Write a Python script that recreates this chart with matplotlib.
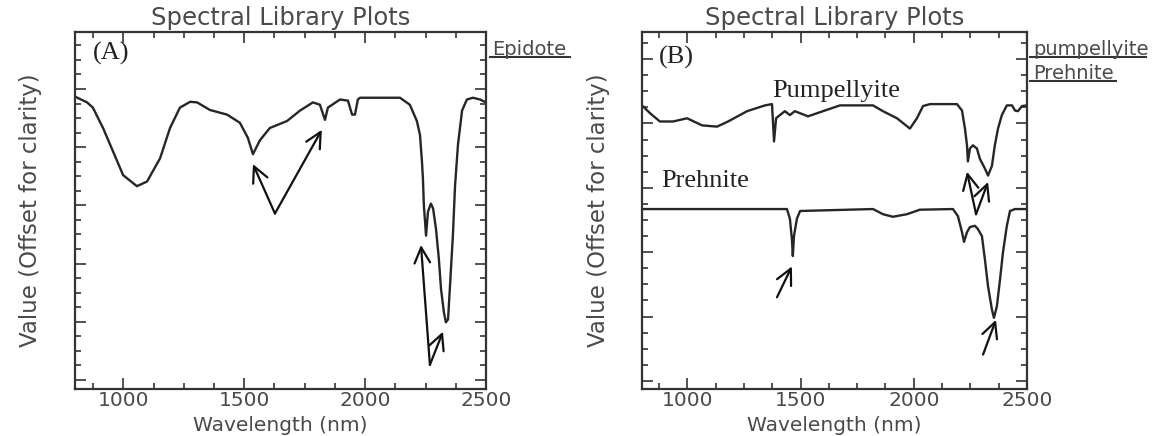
import matplotlib
matplotlib.use('Agg')
import matplotlib.pyplot as plt
from matplotlib.lines import Line2D
from matplotlib.ticker import MultipleLocator

# epidote spectrum (wavelength nm, offset value)
epidote_nm = [800, 850, 874, 916, 957, 999, 1056, 1098, 1152, 1193, 1234, 1276, 1305,
              1358, 1429, 1482, 1515, 1536, 1565, 1606, 1677, 1731, 1784, 1813, 1834,
              1846, 1896, 1929, 1946, 1958, 1970, 1979, 2144, 2185, 2214, 2227, 2235,
              2239, 2243, 2252, 2260, 2272, 2281, 2293, 2305, 2314, 2326, 2334, 2343,
              2351, 2363, 2372, 2384, 2401, 2421, 2446, 2475, 2500]
epidote_val = [4.87, 4.77, 4.68, 4.33, 3.93, 3.52, 3.33, 3.41, 3.81, 4.33, 4.68, 4.78, 4.77,
               4.64, 4.56, 4.42, 4.16, 3.88, 4.12, 4.33, 4.45, 4.63, 4.77, 4.73, 4.47,
               4.68, 4.82, 4.80, 4.56, 4.56, 4.82, 4.85, 4.85, 4.73, 4.45, 4.21, 3.76,
               3.47, 3.00, 2.48, 2.89, 3.03, 2.95, 2.60, 2.08, 1.56, 1.16, 0.99, 1.04,
               1.61, 2.48, 3.34, 4.04, 4.63, 4.82, 4.85, 4.82, 4.77]

# pumpellyite spectrum
pump_nm = [800, 835, 879, 937, 999, 1065, 1131, 1180, 1264, 1343, 1374, 1383, 1392, 1409,
           1431, 1453, 1475, 1533, 1599, 1674, 1820, 1864, 1926, 1983, 2014, 2041, 2072,
           2191, 2213, 2226, 2235, 2239, 2248, 2261, 2279, 2292, 2314, 2328, 2345, 2358,
           2372, 2389, 2411, 2434, 2447, 2460, 2478, 2500]
pump_val = [4.28, 4.16, 4.03, 4.03, 4.08, 3.97, 3.95, 4.03, 4.19, 4.28, 4.30, 3.72, 4.08, 4.13,
            4.19, 4.13, 4.19, 4.11, 4.19, 4.28, 4.28, 4.19, 4.08, 3.92, 4.08, 4.27, 4.30,
            4.30, 4.20, 3.92, 3.66, 3.41, 3.61, 3.66, 3.61, 3.45, 3.30, 3.19, 3.34, 3.66,
            3.92, 4.13, 4.28, 4.28, 4.20, 4.19, 4.27, 4.28]

# prehnite spectrum
preh_nm = [800, 1440, 1453, 1462, 1466, 1471, 1484, 1498, 1820, 1864, 1908, 1970, 2027,
           2173, 2195, 2213, 2222, 2235, 2248, 2270, 2283, 2301, 2314, 2328, 2345, 2354,
           2367, 2381, 2394, 2411, 2425, 2447, 2500]
preh_val = [2.67, 2.67, 2.52, 2.20, 1.94, 2.25, 2.52, 2.64, 2.67, 2.59, 2.55, 2.59, 2.66,
            2.67, 2.56, 2.31, 2.16, 2.31, 2.39, 2.41, 2.36, 2.25, 1.89, 1.47, 1.11, 0.98,
            1.16, 1.58, 2.00, 2.41, 2.64, 2.67, 2.67]

# arrows: (tail x, tail y, head x, head y)
arrows_a = [(1627, 2.86, 1536, 3.71), (1627, 2.86, 1821, 4.30),
            (2268, 0.26, 2231, 2.32), (2268, 0.26, 2322, 0.83)]
arrows_b = [(1396, 1.30, 1462, 1.78), (2306, 0.41, 2363, 0.95),
            (2275, 2.59, 2235, 3.25), (2275, 2.59, 2328, 3.09)]

TXT = '#4a4a4a'
LINE = '#262626'
SERIF = 'Liberation Serif'

fig = plt.figure(figsize=(11.54, 4.36), dpi=100)
ax_a = fig.add_axes([75 / 1154, 47 / 436, 411 / 1154, 357 / 436])
ax_b = fig.add_axes([642 / 1154, 47 / 436, 385 / 1154, 357 / 436])


def style_axes(ax, ylim):
    ax.set_xlim(800, 2500)
    ax.set_ylim(*ylim)
    ax.xaxis.set_major_locator(MultipleLocator(500))
    ax.xaxis.set_minor_locator(MultipleLocator(125))
    ax.yaxis.set_major_locator(MultipleLocator(1))
    ax.yaxis.set_minor_locator(MultipleLocator(0.25))
    ax.tick_params(which='both', direction='in', top=True, right=True,
                   width=1.2, color='#333333')
    ax.tick_params(which='major', length=8)
    ax.tick_params(which='minor', length=4.5)
    ax.tick_params(axis='x', labelsize=14.5, labelcolor=TXT, pad=1.5)
    ax.tick_params(axis='y', labelleft=False)
    for s in ax.spines.values():
        s.set_linewidth(1.6)
        s.set_color('#333333')
    ax.set_title('Spectral Library Plots', fontsize=17.5, color=TXT, pad=5)
    ax.set_xlabel('Wavelength (nm)', fontsize=14.5, color=TXT, va='bottom')
    ax.xaxis.set_label_coords(0.5, -46 / 357)
    ax.set_ylabel('Value (Offset for clarity)', fontsize=16.5, color=TXT, labelpad=20)


def draw_arrows(ax, arrows):
    for x0, y0, x1, y1 in arrows:
        ax.annotate('', xy=(x1, y1), xytext=(x0, y0),
                    arrowprops=dict(arrowstyle='->,head_length=0.8,head_width=0.4',
                                    mutation_scale=14, lw=1.6, color='#111111',
                                    shrinkA=0, shrinkB=0))


# panel A
ax_a.plot(epidote_nm, epidote_val, color=LINE, lw=1.7)
style_axes(ax_a, (-0.156, 5.98))
draw_arrows(ax_a, arrows_a)
ax_a.text(949, 5.61, '(A)', family=SERIF, fontsize=19, color='#222222',
          ha='center', va='center')

# panel B
ax_b.plot(pump_nm, pump_val, color=LINE, lw=1.7)
ax_b.plot(preh_nm, preh_val, color=LINE, lw=1.7)
style_axes(ax_b, (-0.125, 5.42))
draw_arrows(ax_b, arrows_b)
ax_b.text(950, 5.02, '(B)', family=SERIF, fontsize=19, color='#222222',
          ha='center', va='center')
ax_b.text(1657, 4.5, 'Pumpellyite', family=SERIF, fontsize=19,
          color='#222222', ha='center', va='center')
ax_b.text(1078, 3.11, 'Prehnite', family=SERIF, fontsize=19,
          color='#222222', ha='center', va='center')

# underlined series names beside the plots
legend_items = [('Epidote', 492, 57, 490, 570),
                ('pumpellyite', 1033, 57, 1030, 1146),
                ('Prehnite', 1033, 81, 1030, 1116)]
for name, tx, ty, ux0, ux1 in legend_items:
    fig.text(tx / 1154, 1 - (ty - 2) / 436, name, fontsize=14, color=TXT,
             ha='left', va='baseline')
    fig.add_artist(Line2D([ux0 / 1154, ux1 / 1154], [1 - ty / 436, 1 - ty / 436],
                          transform=fig.transFigure, color='#333333', lw=1.5))

fig.savefig('out.png', dpi=100)
